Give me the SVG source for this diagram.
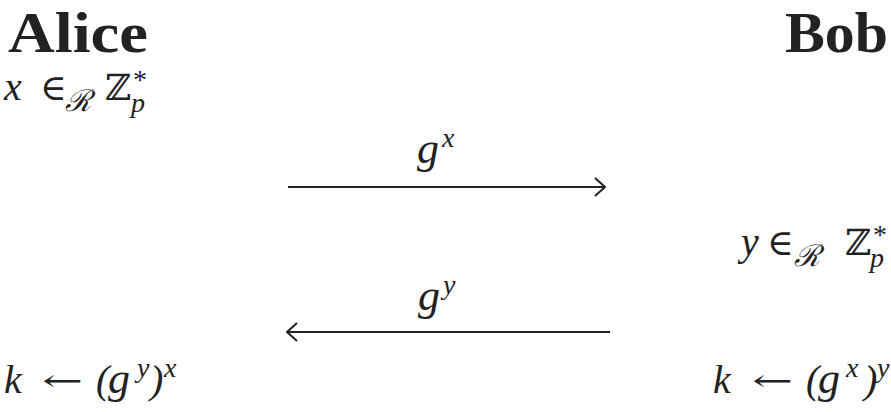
<svg xmlns="http://www.w3.org/2000/svg" width="891" height="412" viewBox="0 0 891 412">
<style>
.title{font-family:"Liberation Serif","DejaVu Serif",serif;font-weight:bold;font-size:56px;fill:#222}
.m{font-family:"Liberation Serif","DejaVu Serif",serif;font-style:italic;font-size:40px;fill:#222}
.g{font-family:"Liberation Serif","DejaVu Serif",serif;font-style:italic;font-size:44px;fill:#222}
.u{font-family:"DejaVu Serif","Liberation Serif",serif;font-size:36px;fill:#222}
.arr{font-family:"DejaVu Serif","Liberation Serif",serif;font-size:30px;fill:#222}
.s{font-family:"Liberation Serif","DejaVu Serif",serif;font-style:italic;font-size:28px;fill:#222}
.st{font-family:"Liberation Serif","DejaVu Serif",serif;font-size:28px;fill:#222}
.cal{font-family:"DejaVu Serif",serif;font-style:italic;font-size:30px;fill:#222}
.line{stroke:#222;stroke-width:2;fill:none}
</style>
<defs>
<marker id="ah" viewBox="0 0 12 20" refX="11" refY="10" markerWidth="12" markerHeight="20" markerUnits="userSpaceOnUse" orient="auto-start-reverse">
<path d="M1 1 L11 10 L1 19" fill="none" stroke="#222" stroke-width="2"/>
</marker>
</defs>
<g id="alice">
<text class="title" x="8" y="52" textLength="140" lengthAdjust="spacingAndGlyphs">Alice</text>
</g>
<g id="bob">
<text class="title" x="785" y="52" textLength="103" lengthAdjust="spacingAndGlyphs">Bob</text>
</g>
<g id="alice-choose">
<text class="m" x="4" y="100">x</text>
<text class="u" x="40" y="100">∈</text>
<text class="cal" x="65" y="111">ℛ</text>
<text class="u" x="105" y="100">ℤ</text>
<text class="st" x="133" y="89">*<tspan class="s" x="131" y="112">p</tspan></text>
</g>
<g id="bob-choose">
<text class="m" x="741" y="255">y</text>
<text class="u" x="767" y="255">∈</text>
<text class="cal" x="794" y="266">ℛ</text>
<text class="u" x="845" y="255">ℤ</text>
<text class="st" x="873" y="244">*<tspan class="s" x="870" y="267">p</tspan></text>
</g>
<g id="alice-key">
<text class="m" x="4" y="393">k</text>
<text class="arr" x="42" y="391" textLength="41" lengthAdjust="spacingAndGlyphs">←</text>
<text class="m" x="96" y="393">(</text>
<text class="g" x="108" y="393">g</text>
<text class="s" x="137" y="377">y</text>
<text class="m" x="150" y="393">)</text>
<text class="s" x="164" y="377">x</text>
</g>
<g id="bob-key">
<text class="m" x="713" y="393">k</text>
<text class="arr" x="752" y="391" textLength="41" lengthAdjust="spacingAndGlyphs">←</text>
<text class="m" x="806" y="393">(</text>
<text class="g" x="818" y="393">g</text>
<text class="s" x="846" y="377">x</text>
<text class="m" x="864" y="393">)</text>
<text class="s" x="877" y="377">y</text>
</g>
<g id="connectors">
<line class="line" x1="288" y1="187" x2="605" y2="187" marker-end="url(#ah)"/>
<line class="line" x1="610" y1="332" x2="287" y2="332" marker-end="url(#ah)"/>
<text class="g" x="417" y="163">g</text>
<text class="s" x="442" y="147">x</text>
<text class="g" x="418" y="310">g</text>
<text class="s" x="443" y="294">y</text>
</g>
</svg>
